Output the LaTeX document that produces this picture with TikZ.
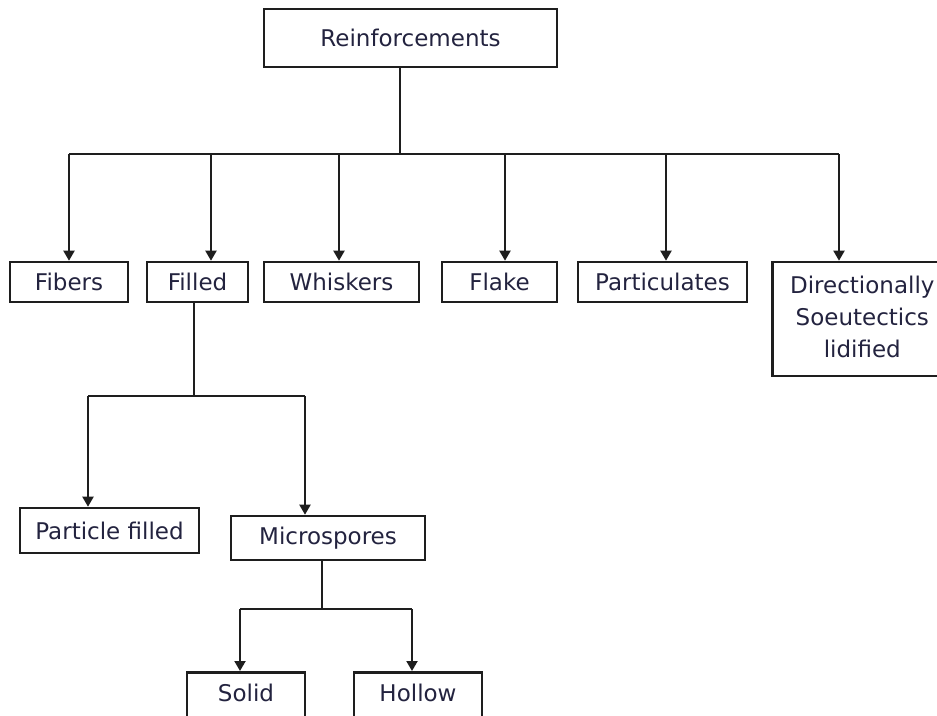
\documentclass[tikz,border=0pt]{standalone}
\usepackage{fontspec}
\setmainfont{DejaVu Sans}
\usetikzlibrary{arrows.meta}
\definecolor{txt}{HTML}{23233F}
\definecolor{ln}{HTML}{1E1E1E}
\begin{document}
\begin{tikzpicture}[x=1pt,y=-1pt,
  box/.style={draw=ln, line width=2.6pt, inner sep=0pt, text=txt,
    font=\fontsize{23}{32}\selectfont, align=center},
  conn/.style={draw=ln, line width=2pt},
  arr/.style={conn, -{Triangle[length=10pt,width=11pt]}}]
\useasboundingbox (0,0) rectangle (937,715);
\clip (0,0) rectangle (937,715);
% nodes
\node[box, minimum width=293pt, minimum height=58pt] (top) at (410.5,38) {Reinforcements};
\node[box, minimum width=118pt, minimum height=40pt] (fib) at (69,282) {Fibers};
\node[box, minimum width=101pt, minimum height=40pt] (fil) at (197.5,282) {Filled};
\node[box, minimum width=155pt, minimum height=40pt] (whi) at (341.5,282) {Whiskers};
\node[box, minimum width=115pt, minimum height=40pt] (fla) at (499.5,282) {Flake};
\node[box, minimum width=169pt, minimum height=40pt] (par) at (662.5,282) {Particulates};
\node[box, anchor=west, minimum height=114pt] (dir) at (771,319)
  {\makebox[180pt]{\begin{tabular}{@{}c@{}}Directionally\\Soeutectics\\lidified\end{tabular}}\hspace{40pt}};
\node[box, minimum width=179pt, minimum height=45pt] (pf) at (109.5,530.5) {Particle filled};
\node[box, minimum width=194pt, minimum height=44pt] (mic) at (328,538) {Microspores};
\node[box, anchor=north, minimum width=118pt, text height=29pt, text depth=42pt] (sol) at (246,671) {Solid};
\node[box, anchor=north, minimum width=128pt, text height=29pt, text depth=42pt] (hol) at (418,671) {Hollow};
% coordinates of the buses
\coordinate (t) at (400,154);
\coordinate (a1) at (69,154);
\coordinate (a2) at (211,154);
\coordinate (a3) at (339,154);
\coordinate (a4) at (505,154);
\coordinate (a5) at (666,154);
\coordinate (a6) at (839,154);
\coordinate (f) at (194,396);
\coordinate (b1) at (88,396);
\coordinate (b2) at (305,396);
\coordinate (m) at (322,609);
\coordinate (c1) at (240,609);
\coordinate (c2) at (412,609);
% connectors
\draw[conn] (t |- top.south) -- (t);
\draw[conn] (a1) -- (a6);
\draw[arr] (a1) -- (a1 |- fib.north);
\draw[arr] (a2) -- (a2 |- fil.north);
\draw[arr] (a3) -- (a3 |- whi.north);
\draw[arr] (a4) -- (a4 |- fla.north);
\draw[arr] (a5) -- (a5 |- par.north);
\draw[arr] (a6) -- (a6 |- dir.north);
\draw[conn] (f |- fil.south) -- (f);
\draw[conn] (b1) -- (b2);
\draw[arr] (b1) -- (b1 |- pf.north);
\draw[arr] (b2) -- (b2 |- mic.north);
\draw[conn] (m |- mic.south) -- (m);
\draw[conn] (c1) -- (c2);
\draw[arr] (c1) -- (c1 |- sol.north);
\draw[arr] (c2) -- (c2 |- hol.north);
\end{tikzpicture}
\end{document}
